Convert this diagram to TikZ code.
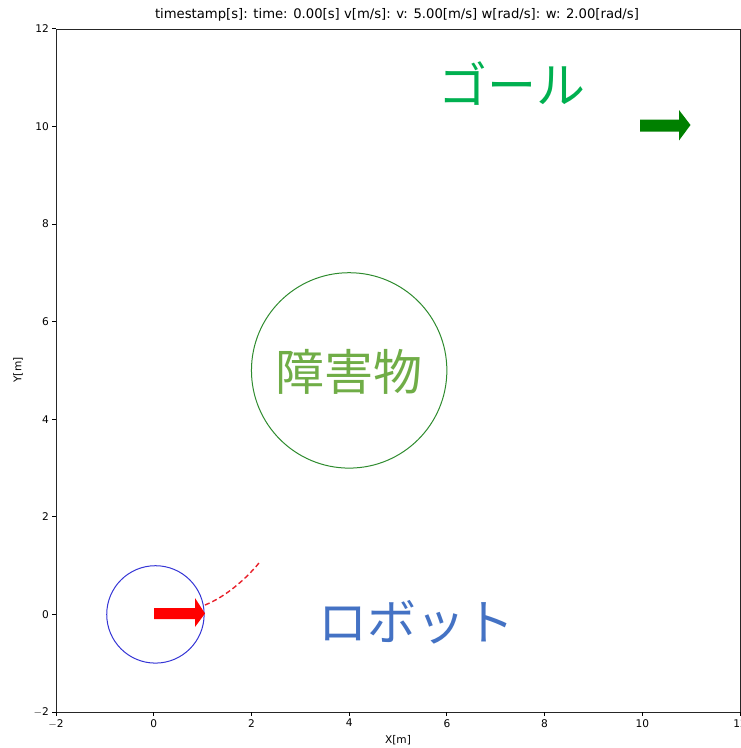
\documentclass[tikz,border=0pt]{standalone}
\usepackage{fontspec}
\setmainfont{DejaVu Sans}
\newfontfamily\jp{Noto Sans CJK JP}
\definecolor{obsgreen}{HTML}{2E8B2E}
\definecolor{obstext}{HTML}{70AD47}
\definecolor{goaltext}{HTML}{00B050}
\definecolor{robottext}{HTML}{4472C4}
\definecolor{robotblue}{HTML}{3535D5}
\definecolor{goalgreen}{HTML}{008000}
\definecolor{pathred}{HTML}{E8202A}
\tikzset{
  ticklab/.style={font=\fontsize{10.6}{12}\selectfont, inner sep=0pt},
  axlab/.style={font=\fontsize{10.6}{12}\selectfont, inner sep=0pt},
  jplabel/.style={font=\jp\fontsize{49}{52}\selectfont, inner sep=0pt},
  spine/.style={line width=0.8pt, draw=black!85},
}
\begin{document}
\begin{tikzpicture}[x=1pt,y=1pt]
\useasboundingbox (0,-748) rectangle (741,0);
% axes frame
\draw[spine] (56,-712) rectangle (740,-29);
% title
\node[font=\fontsize{13.2}{15}\selectfont, inner sep=0pt] (title) at (397,-15) {timestamp[s]: time: 0.00[s] v[m/s]: v: 5.00[m/s] w[rad/s]: w: 2.00[rad/s]};
% x ticks
\foreach \v [count=\i] in {-2,0,2,4,6,8,10,12} {
  \pgfmathsetmacro{\px}{56+(\v+2)*48.86}
  \draw[line width=0.8pt] (\px,-712) -- (\px,-716);
  \node[ticklab, anchor=north] (xt\i) at (\px,-719) {\ifnum\v<0 $-$2\else\v\fi};
}
% y ticks
\foreach \v [count=\i] in {-2,0,2,4,6,8,10,12} {
  \pgfmathsetmacro{\py}{-712+(\v+2)*48.8}
  \draw[line width=0.8pt] (52,\py) -- (56,\py);
  \node[ticklab, anchor=east] (yt\i) at (49,\py) {\ifnum\v<0 $-$2\else\v\fi};
}
\node[axlab] (xlabel) at (398,-740) {X[m]};
\node[axlab, rotate=90] (ylabel) at (18,-370) {Y[m]};
% data scope
\begin{scope}[shift={(153.72pt,-614.4pt)}, x=48.86pt, y=48.8pt]
  % obstacle
  \node[circle, draw=obsgreen, line width=1pt, minimum size=195.4pt, inner sep=0pt] (obstacle) at (4,5) {};
  \node[jplabel, text=obstext] (obslabel) at (4,4.97) {障害物};
  % robot
  \node[circle, draw=robotblue, line width=1pt, minimum size=97.4pt, inner sep=0pt] (robot) at (0.035,0) {};
  \node[jplabel, text=robottext] (robotlabel) at (5.37,-0.16) {ロボット};
  % goal
  \node[jplabel, text=goaltext] (goallabel) at (7.33,10.88) {ゴール};
\end{scope}
% robot arrow (red)
\fill[red] (154,-608) -- (195,-608) -- (195,-598) -- (205,-613.5) -- (195,-627) -- (195,-619) -- (154,-619) -- cycle;
\coordinate (rtip) at (205,-605);
\coordinate (pend) at (259,-563);
\draw[pathred, line width=1.4pt, dash pattern=on 5pt off 3pt] (rtip) .. controls (225,-597) and (245,-580) .. (pend);
% goal arrow (green)
\fill[goalgreen] (640,-119.5) -- (679,-119.5) -- (679,-110) -- (690.5,-125) -- (679,-140.5) -- (679,-131.5) -- (640,-131.5) -- cycle;
\end{tikzpicture}
\end{document}
